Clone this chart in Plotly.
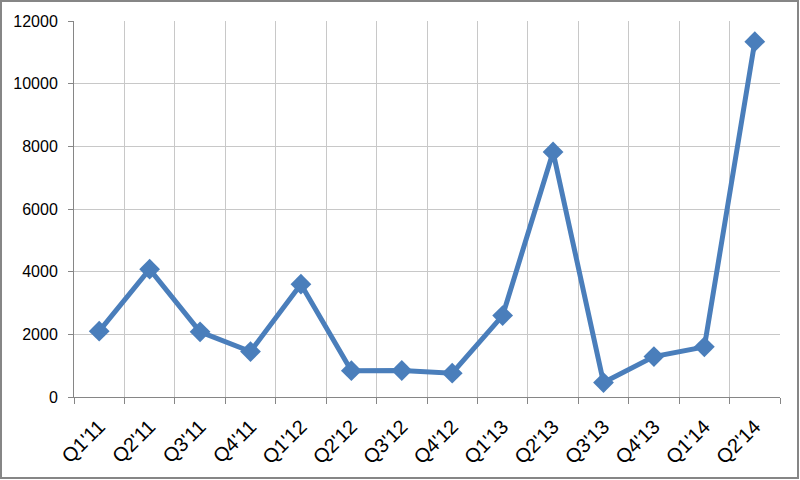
import plotly.graph_objects as go

quarters = ["Q1'11", "Q2'11", "Q3'11", "Q4'11", "Q1'12", "Q2'12", "Q3'12",
            "Q4'12", "Q1'13", "Q2'13", "Q3'13", "Q4'13", "Q1'14", "Q2'14"]
values = [2100, 4080, 2080, 1450, 3600, 840, 845, 760, 2600, 7820, 460, 1290, 1600, 11340]

W, H = 800, 480
ml, mr, mt, mb = 74, 20, 21, 83
pw, ph = W - ml - mr, H - mt - mb

fig = go.Figure()
fig.add_trace(go.Scatter(
    x=quarters, y=values, mode="lines+markers",
    line=dict(color="#4A7EBB", width=5),
    marker=dict(symbol="diamond", size=16, color="#4A7EBB"),
    showlegend=False, hoverinfo="skip",
))

fig.update_layout(
    width=W, height=H,
    margin=dict(l=ml, r=mr, t=mt, b=mb, autoexpand=False),
    paper_bgcolor="white", plot_bgcolor="white",
    font=dict(family="Liberation Sans, Arial, sans-serif", size=14, color="#000000"),
    xaxis=dict(
        type="category", range=[-0.5, len(quarters) - 0.5],
        tickson="boundaries", showgrid=True, gridcolor="#C8C8C8", gridwidth=1,
        ticks="outside", ticklen=6, tickcolor="#868686",
        showline=True, linecolor="#868686", linewidth=1,
        tickangle=-45, tickfont=dict(size=20), automargin=False,
        ticklabelstandoff=9, zeroline=False,
    ),
    yaxis=dict(
        range=[0, 12000], dtick=2000, tickformat="d",
        showgrid=True, gridcolor="#C8C8C8", gridwidth=1,
        ticks="outside", ticklen=5, tickcolor="#868686",
        showline=True, linecolor="#868686", linewidth=1,
        zeroline=False, tickfont=dict(size=16), automargin=False,
        ticklabelstandoff=7,
    ),
    shapes=[dict(
        type="rect", xref="paper", yref="paper",
        x0=(-ml + 1) / pw, x1=1 + (mr - 2) / pw,
        y0=-(mb - 2) / ph, y1=1 + (mt - 1) / ph,
        line=dict(color="#868686", width=2), fillcolor="rgba(0,0,0,0)", layer="below",
    )],
)

fig.write_html("out.html", config={"displayModeBar": False},
               post_script="document.body.style.margin='0';document.body.style.overflow='hidden';")
